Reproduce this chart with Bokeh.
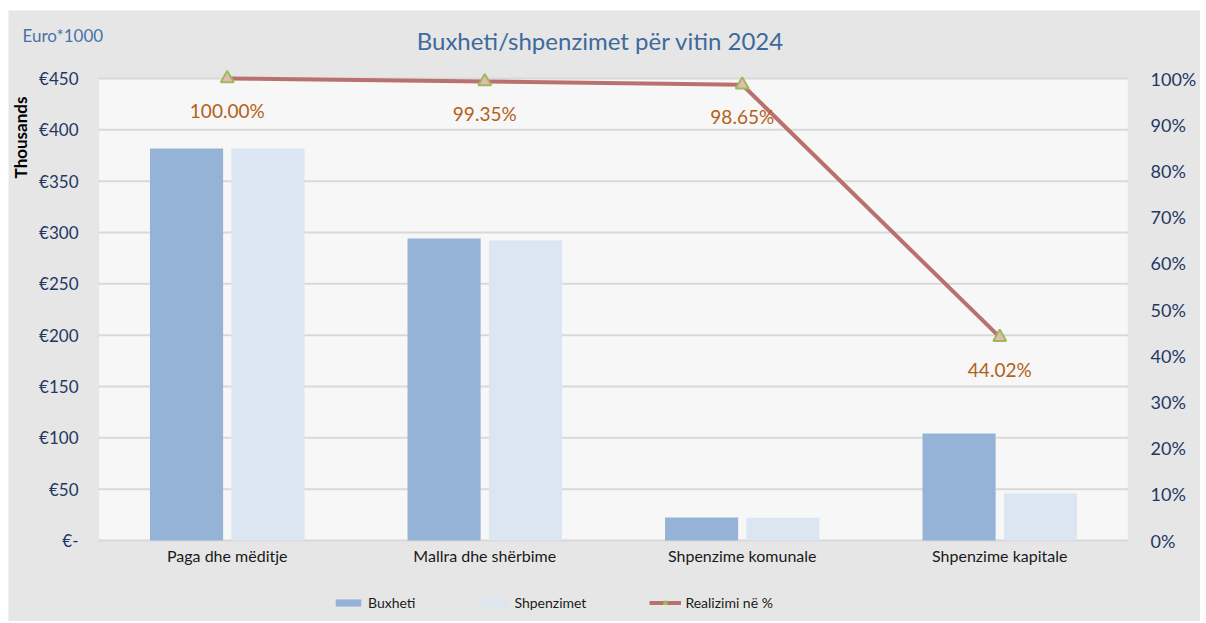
from bokeh.plotting import figure
from bokeh.models import (Range1d, LinearAxis, NumeralTickFormatter, PrintfTickFormatter,
                          FixedTicker, Legend, LegendItem, Label, ColumnDataSource, BoxAnnotation)
from bokeh.core.properties import value
from bokeh.embed import file_html
from bokeh.resources import INLINE
import math

categories = ["Paga dhe mëditje", "Mallra dhe shërbime", "Shpenzime komunale", "Shpenzime kapitale"]
buxheti = [381.8, 294.2, 22.4, 104.2]
shpenzimet = [381.8, 292.3, 22.1, 45.9]
realizimi = [1.0000, 0.9935, 0.9865, 0.4402]
realizimi_labels = ["100.00%", "99.35%", "98.65%", "44.02%"]
left_ticks = [0, 50, 100, 150, 200, 250, 300, 350, 400, 450]
right_ticks = [0, 0.1, 0.2, 0.3, 0.4, 0.5, 0.6, 0.7, 0.8, 0.9, 1.0]
title_text = "Buxheti/shpenzimet për vitin 2024"
unit_text = "Euro*1000"
axis_title = "Thousands"

FONT = "Lato"
NAVY = "#1f3864"
GREY = "#e6e6e6"

# ---- layout geometry (pixels) ----
W, H = 1192, 611            # figure size (page offset 8, 10)
PLOT_L, PLOT_R = 90, 72     # plot-area distance from figure left / right edge
PLOT_T, PLOT_B = 68, 81     # plot-area distance from figure top / bottom edge
YMAX = 450.0
NCAT = len(categories)
cat_px = (W - PLOT_L - PLOT_R) / NCAT
y_px = (H - PLOT_T - PLOT_B) / YMAX

def px_x(page_x):   # page pixel -> x data
    return (page_x - 8 - PLOT_L) / cat_px

def px_y(page_y):   # page pixel -> y data
    return (H + 10 - PLOT_B - page_y) / y_px

x0, x1 = -PLOT_L / cat_px, NCAT + PLOT_R / cat_px
y0, y1 = -PLOT_B / y_px, YMAX + PLOT_T / y_px

centers = [i + 0.5 for i in range(NCAT)]
OFF, BW = 0.158, 0.284
src = ColumnDataSource(dict(xc=centers, xb=[c - OFF for c in centers], xs=[c + OFF for c in centers],
                            b=buxheti, s=shpenzimet, r=realizimi, lab=realizimi_labels))

p = figure(x_range=Range1d(x0, x1), y_range=Range1d(y0, y1),
           width=W, height=H, output_backend="svg", toolbar_location=None, min_border=0)
p.margin = (10, 0, 0, 8)
p.background_fill_color = GREY
p.border_fill_color = GREY
p.outline_line_color = None
p.extra_y_ranges = {"pct": Range1d(y0 / YMAX, y1 / YMAX)}
p.xgrid.visible = False
p.ygrid.visible = False

p.add_layout(BoxAnnotation(left=0, right=NCAT, bottom=0, top=YMAX, fill_color="#f7f7f7", fill_alpha=1,
                           line_color="#d9d9d9", line_width=2, level="underlay"))

# gridlines at the left-axis ticks, across the plot area
p.segment(x0=[0] * len(left_ticks), x1=[NCAT] * len(left_ticks), y0=left_ticks, y1=left_ticks,
          line_color="#d9d9d9", line_width=2)

b1 = p.vbar(x="xb", top="b", width=BW, source=src, fill_color="#95b3d7", line_color=None)
b2 = p.vbar(x="xs", top="s", width=BW, source=src, fill_color="#dce6f2", line_color=None)
ln = p.line(x="xc", y="r", source=src, y_range_name="pct", line_color="#b9716d", line_width=4)
mk = p.scatter(x="xc", y="r", source=src, y_range_name="pct", marker="triangle", size=13,
               fill_color="#e6b8b7", line_color="#9bbb59", line_width=2)
p.text(x="xc", y="r", text="lab", source=src, y_range_name="pct", y_offset=32,
       text_align="center", text_baseline="middle", text_color="#b3611a",
       text_font=value(FONT), text_font_size="19px")

p.add_layout(Label(x=px_x(600), y=px_y(40), text=title_text, text_align="center",
                   text_baseline="middle", text_font=FONT, text_font_size="24px",
                   text_color="#3d6a9e"))
p.add_layout(Label(x=px_x(22), y=px_y(35), text=unit_text, text_align="left",
                   text_baseline="middle", text_font=FONT, text_font_size="17px",
                   text_color="#4a72a8"))
p.add_layout(Label(x=px_x(20), y=px_y(137), text=axis_title, angle=math.pi / 2,
                   text_align="center", text_baseline="middle", text_font=FONT,
                   text_font_size="17px", text_font_style="bold", text_color="black"))

def style_axis(ax, size):
    ax.axis_line_color = None
    ax.major_tick_line_color = None
    ax.minor_tick_line_color = None
    ax.major_tick_out = 0
    ax.major_tick_in = 0
    ax.minor_tick_out = 0
    ax.minor_tick_in = 0
    ax.major_label_text_font = FONT
    ax.major_label_text_font_size = size

ya = p.yaxis[0]
ya.ticker = FixedTicker(ticks=left_ticks)
ya.formatter = PrintfTickFormatter(format="€%d")
ya.major_label_overrides = {0: "€-"}
ya.fixed_location = 0
style_axis(ya, "17px")
ya.major_label_text_color = NAVY
ya.major_label_standoff = 20

ra = LinearAxis(y_range_name="pct", ticker=FixedTicker(ticks=right_ticks),
                formatter=NumeralTickFormatter(format="0%"), fixed_location=NCAT)
style_axis(ra, "18px")
ra.major_label_text_color = NAVY
ra.major_label_standoff = 22
p.add_layout(ra, "right")

xa = p.xaxis[0]
xa.ticker = FixedTicker(ticks=centers)
xa.major_label_overrides = {c: name for c, name in zip(centers, categories)}
xa.fixed_location = 0
style_axis(xa, "16px")
xa.major_label_text_color = "#1a1a1a"
xa.major_label_standoff = 5

legend = Legend(items=[LegendItem(label="Buxheti", renderers=[b1]),
                       LegendItem(label="Shpenzimet", renderers=[b2]),
                       LegendItem(label="Realizimi në %", renderers=[ln, mk])],
                orientation="horizontal", location=(324, 10), background_fill_alpha=0,
                border_line_color=None, glyph_width=32, glyph_height=9, label_height=16,
                spacing=63, padding=0, margin=0, label_text_color="#1a1a1a",
                label_text_font=FONT, label_text_font_size="14px", label_standoff=4)
p.add_layout(legend, "center")

open("out.html", "w").write(file_html(p, INLINE))
